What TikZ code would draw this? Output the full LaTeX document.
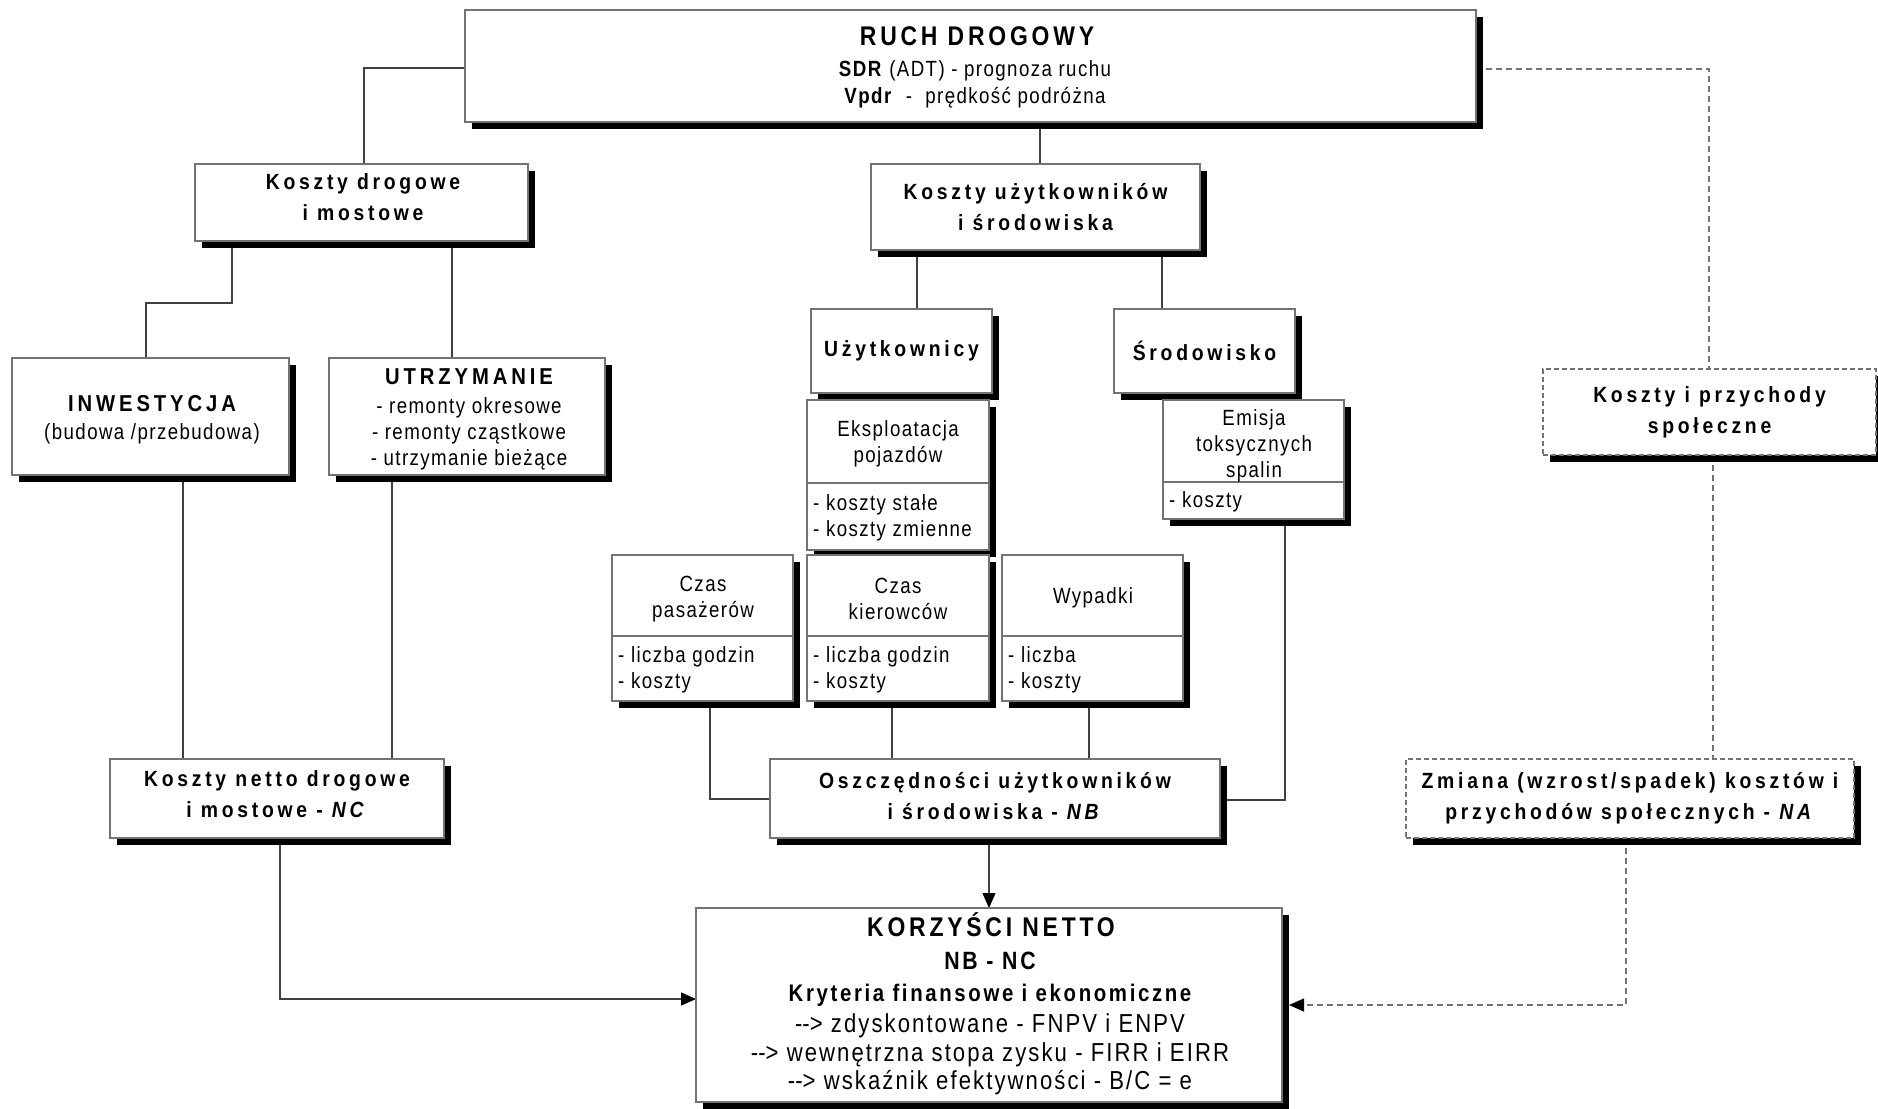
\documentclass[tikz,border=0pt]{standalone}
\usepackage{fontspec}
\setmainfont{Liberation Sans}[FakeStretch=0.85]
\newfontfamily\fB{Liberation Sans}[FakeStretch=0.88,LetterSpace=17]
\newfontfamily\fR{Liberation Sans}[FakeStretch=0.85,LetterSpace=6.4]
\newfontfamily\fRL{Liberation Sans}[FakeStretch=0.85,LetterSpace=8]
\newfontfamily\fT{Liberation Sans}[FakeStretch=0.85,LetterSpace=14]
\newfontfamily\fK{Liberation Sans}[FakeStretch=0.85,LetterSpace=11]
\newcommand\txB{\fB\bfseries\fontsize{22}{31}\selectfont}
\newcommand\txBb{\fB\bfseries\fontsize{23}{31}\selectfont}
\newcommand\txR{\fR\fontsize{22}{26}\selectfont}
\newcommand\txT{\fT\bfseries\fontsize{27}{30}\selectfont}
\newcommand\txK{\fK\bfseries\fontsize{24}{28}\selectfont}
\newcommand\txKn{\fK\bfseries\fontsize{25}{28}\selectfont}
\newcommand\txL{\fRL\fontsize{26}{29}\selectfont}
\usetikzlibrary{shadows,arrows.meta,backgrounds}
\tikzset{
  bx/.style={draw=black!55, line width=1.3pt, fill=white, inner sep=0pt, outer sep=0pt,
    anchor=north west, align=center,
    general shadow={fill=black, shadow xshift=7pt, shadow yshift=-7pt}},
  dbx/.style={bx, dash pattern=on 5pt off 3pt},
  dv/.style={draw=black!55, line width=1.3pt},
  ln/.style={draw=black!75, line width=1.2pt},
  dln/.style={draw=black!55, line width=1.2pt, dash pattern=on 6pt off 4pt},
  arr/.style={-{Triangle[length=15pt,width=13pt,color=black]}},
  tR/.style={inner sep=0pt, font=\txR, text height=0.75em, text depth=0.2em, yshift=-5pt},
  mR/.style={inner sep=0pt, font=\txR, align=center, yshift=-3pt},
  mB/.style={inner sep=0pt, font=\txB, align=center},
  tBb/.style={inner sep=0pt, font=\txBb, text height=0.75em, text depth=0.2em, yshift=-5pt},
  tT/.style={inner sep=0pt, font=\txT, text height=0.75em, text depth=0.2em, yshift=-5pt},
  tK/.style={inner sep=0pt, font=\txK, text height=0.75em, text depth=0.2em, yshift=-5pt},
  tKn/.style={inner sep=0pt, font=\txKn, text height=0.75em, text depth=0.2em, yshift=-5pt},
  tL/.style={inner sep=0pt, font=\txL, text height=0.75em, text depth=0.2em, yshift=-5pt},
}
\begin{document}
\begin{tikzpicture}[x=1pt,y=-1pt]
\useasboundingbox (0,0) rectangle (1878,1108);

% top
\node[bx, minimum width=1011pt, minimum height=112pt] (ruch) at (465,10) {};
\node[tT] (ruchA) at (977,38) {RUCH DROGOWY};
\node[tR] (ruchB) at (975,69) {\textbf{SDR} (ADT) - prognoza ruchu};
\node[tR] (ruchC) at (975,96) {\textbf{Vpdr}\ \ -\ \ prędkość podróżna};

% second level
\node[bx, minimum width=333pt, minimum height=77pt] (kdm) at (195,164) {};
\node[mB] (kdmT) at (363,197) {Koszty drogowe\\i mostowe};
\node[bx, minimum width=329pt, minimum height=86pt, font=\txB] (kus) at (871,164) {Koszty użytkowników\\i środowiska};

% road costs
\node[bx, minimum width=277pt, minimum height=117pt] (inw) at (12,358) {};
\node[tBb] (inwA) at (152,404) {INWESTYCJA};
\node[tR] (inwB) at (152,432) {(budowa /przebudowa)};
\node[bx, minimum width=276pt, minimum height=117pt] (utr) at (329,358) {};
\node[tBb] (utrA) at (469,377) {UTRZYMANIE};
\node[mR] (utrB) at (469,431) {- remonty okresowe\\- remonty cząstkowe\\- utrzymanie bieżące};

% users / environment
\node[bx, minimum width=181pt, minimum height=84pt, font=\txB] (uzy) at (811,309) {Użytkownicy};
\node[bx, minimum width=181pt, minimum height=84pt, font=\txB] (sro) at (1114,309) {Środowisko};

\node[bx, minimum width=182pt, minimum height=150pt] (eks) at (807,400) {};
\draw[dv] (807,483) -- (989,483);
\node[mR] (eksA) at (898,441) {Eksploatacja\\pojazdów};
\node[mR, anchor=west, align=left] (eksB) at (813,515) {- koszty stałe\\- koszty zmienne};

\node[bx, minimum width=181pt, minimum height=119pt] (emi) at (1163,400) {};
\draw[dv] (1163,482) -- (1344,482);
\node[mR] (emiA) at (1254,443) {Emisja\\toksycznych\\spalin};
\node[tR, anchor=west] (emiB) at (1169,500) {- koszty};

\node[bx, minimum width=181pt, minimum height=146pt] (czp) at (612,555) {};
\draw[dv] (612,636) -- (793,636);
\node[mR] (czpA) at (703,596) {Czas\\pasażerów};
\node[mR, anchor=west, align=left] (czpB) at (618,667) {- liczba godzin\\- koszty};

\node[bx, minimum width=182pt, minimum height=146pt] (czk) at (807,555) {};
\draw[dv] (807,636) -- (989,636);
\node[mR] (czkA) at (898,596) {Czas\\kierowców};
\node[mR, anchor=west, align=left] (czkB) at (813,667) {- liczba godzin\\- koszty};

\node[bx, minimum width=181pt, minimum height=146pt] (wyp) at (1002,555) {};
\draw[dv] (1002,636) -- (1183,636);
\node[tR] (wypA) at (1093,596) {Wypadki};
\node[mR, anchor=west, align=left] (wypB) at (1008,667) {- liczba\\- koszty};

% sums
\node[bx, minimum width=450pt, minimum height=79pt] (osz) at (770,759) {};
\node[mB] (oszT) at (995,796) {Oszczędności użytkowników\\i środowiska - \textit{NB}};
\node[bx, minimum width=334pt, minimum height=79pt] (nc) at (110,759) {};
\node[mB] (ncT) at (277,794) {Koszty netto drogowe\\i mostowe - \textit{NC}};

% social
\node[dbx, minimum width=333pt, minimum height=86pt, font=\txB] (spo) at (1543,369) {Koszty i przychody\\społeczne};
\node[dbx, minimum width=448pt, minimum height=79pt, font=\txB] (zmi) at (1406,759) {Zmiana (wzrost/spadek) kosztów i\\przychodów społecznych - \textit{NA}};

% result
\node[bx, minimum width=586pt, minimum height=194pt] (kor) at (696,908) {};
\node[tT] (korA) at (991,929) {KORZYŚCI NETTO};
\node[tKn] (korB) at (990,962) {NB - NC};
\node[tK] (korC) at (990,994) {Kryteria finansowe i ekonomiczne};
\node[tL] (korD) at (990,1025) {-\kern0pt-\kern0pt> zdyskontowane - FNPV i ENPV};
\node[tL] (korE) at (990,1054) {-\kern0pt-\kern0pt> wewnętrzna stopa zysku - FIRR i EIRR};
\node[tL] (korF) at (990,1082) {-\kern0pt-\kern0pt> wskaźnik efektywności - B/C = e};

% helper coordinates
\coordinate (c1) at (364,68);
\coordinate (c2) at (1040,0);
\coordinate (c3) at (232,303);
\coordinate (c4) at (146,303);
\coordinate (c5) at (452,0);
\coordinate (c6) at (917,0);
\coordinate (c7) at (1162,0);
\coordinate (c8) at (183,0);
\coordinate (c9) at (392,0);
\coordinate (c10) at (710,799);
\coordinate (c11) at (892,0);
\coordinate (c12) at (1089,0);
\coordinate (c13) at (1285,800);
\coordinate (c14) at (989,0);
\coordinate (c15) at (280,999);
\coordinate (c16) at (1709,69);
\coordinate (c17) at (1713,0);
\coordinate (c18) at (1626,1005);

\begin{pgfonlayer}{background}
\draw[ln] (ruch.west |- c1) -| (kdm.north -| c1);
\draw[ln] (ruch.south -| c2) -- (kus.north -| c2);
\draw[ln] (kdm.south -| c3) -- (c3) -- (c4) -- (inw.north -| c4);
\draw[ln] (kdm.south -| c5) -- (utr.north -| c5);
\draw[ln] (kus.south -| c6) -- (uzy.north -| c6);
\draw[ln] (kus.south -| c7) -- (sro.north -| c7);
\draw[ln] (inw.south -| c8) -- (nc.north -| c8);
\draw[ln] (utr.south -| c9) -- (nc.north -| c9);
\draw[ln] (czp.south -| c10) |- (osz.west |- c10);
\draw[ln] (czk.south -| c11) -- (osz.north -| c11);
\draw[ln] (wyp.south -| c12) -- (osz.north -| c12);
\draw[ln] (emi.south -| c13) |- (osz.east |- c13);
\draw[ln, arr] (osz.south -| c14) -- (kor.north -| c14);
\draw[ln, arr] (nc.south -| c15) |- (kor.west |- c15);
\draw[dln] (ruch.east |- c16) -| (spo.north -| c16);
\draw[dln] (spo.south -| c17) -- (zmi.north -| c17);
\draw[dln, arr, shorten >=7pt] (zmi.south -| c18) |- (kor.east |- c18);
\end{pgfonlayer}
\end{tikzpicture}
\end{document}
